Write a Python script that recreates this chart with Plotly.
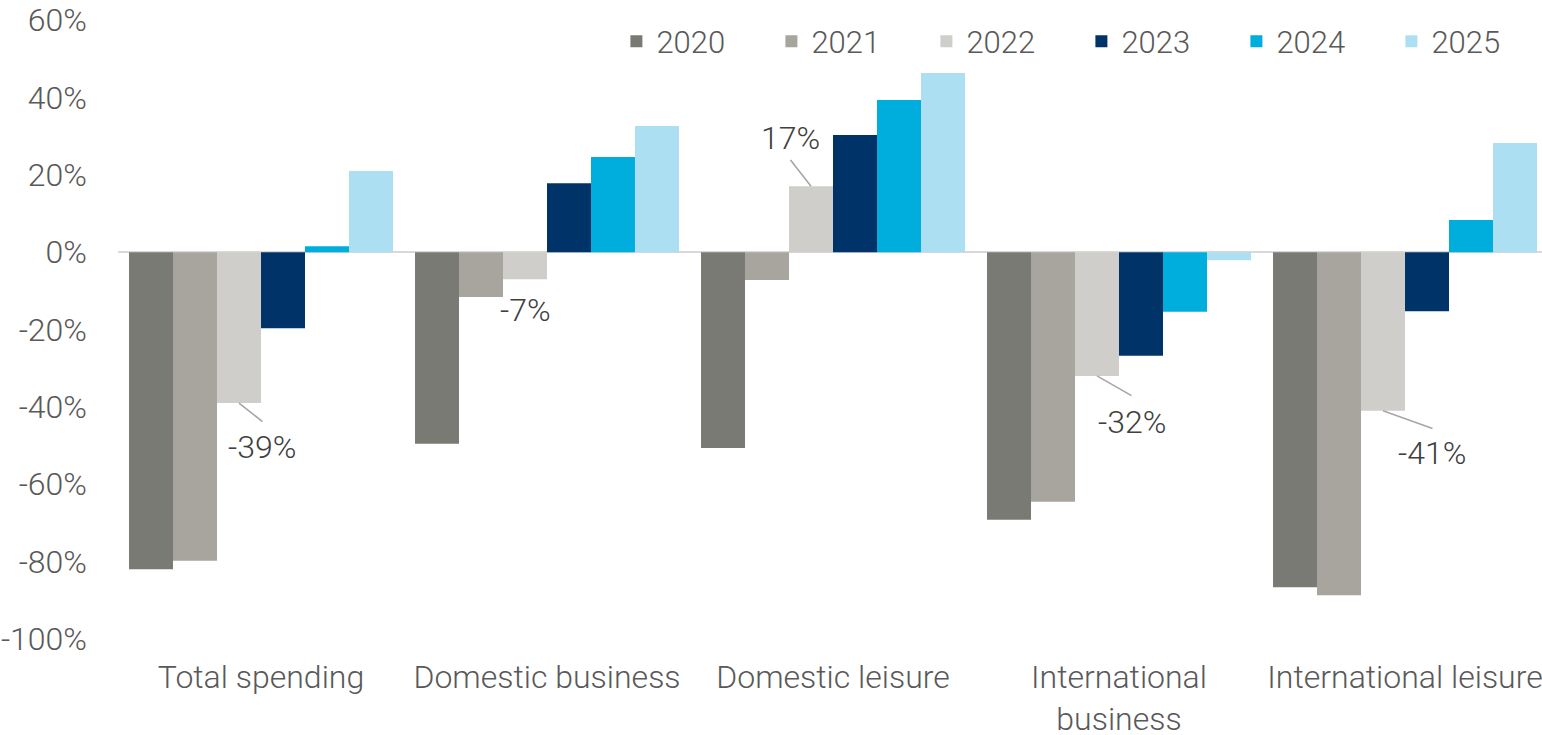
import plotly.graph_objects as go

# Year-over-year change in travel spending (%), by segment
categories = ["Total spending", "Domestic business", "Domestic leisure",
              "International<br>business", "International leisure"]
years = ["2020", "2021", "2022", "2023", "2024", "2025"]

y2020 = [-82.0, -49.5, -50.6, -69.2, -86.6]
y2021 = [-79.8, -11.6, -7.2, -64.5, -88.7]
y2022 = [-39.0, -7.0, 17.0, -32.0, -41.0]
y2023 = [-19.7, 17.8, 30.3, -26.8, -15.3]
y2024 = [1.5, 24.6, 39.3, -15.4, 8.3]
y2025 = [21.0, 32.6, 46.3, -2.1, 28.2]

series = [y2020, y2021, y2022, y2023, y2024, y2025]
colors = ["#7A7A74", "#A8A59F", "#D0CECA", "#003468", "#00AEDD", "#ADDFF2"]

y_ticks = [-100, -80, -60, -40, -20, 0, 20, 40, 60]
y_tick_text = ["-100%", "-80%", "-60%", "-40%", "-20%", "0%", "20%", "40%", "60%"]

FONT = "Roboto"
TICK_COLOR = "#595959"
LABEL_COLOR = "#404040"
FS = 32

fig = go.Figure()
for name, vals, col in zip(years, series, colors):
    fig.add_trace(go.Bar(
        name=name, x=list(range(len(categories))), y=vals,
        marker=dict(color=col, line=dict(width=0)),
    ))

BARGAP = 0.077
n_series = len(years)
bar_w = (1 - BARGAP) / n_series


def bar_center(cat_idx, series_idx):
    return cat_idx - (1 - BARGAP) / 2 + (series_idx + 0.5) * bar_w


# 2022 value callouts: (category, leader dx, leader dy, text dx, text dy) in pixels
callouts = [
    (0, 24, 19, 23, -44),
    (1, None, None, 0, -31),
    (2, -21, -27, -21, 48),
    (3, 35, 20, 35, -46),
    (4, 50, 18, 49, -42),
]

annotations = []
for cat, lx, ly, tx, ty in callouts:
    xv = bar_center(cat, 2)
    yv = y2022[cat]
    if lx is not None:
        annotations.append(dict(
            x=xv, y=yv, xref="x", yref="y", text=" ",
            font=dict(size=1), showarrow=True, arrowhead=0,
            arrowwidth=1.6, arrowcolor="#A6A6A6",
            ax=lx, ay=ly, axref="pixel", ayref="pixel", borderpad=0,
        ))
    annotations.append(dict(
        x=xv, y=yv, xref="x", yref="y", text=f"{yv:.0f}%",
        showarrow=False, xshift=tx, yshift=ty,
        font=dict(family=FONT, size=FS, color=LABEL_COLOR, weight=300),
    ))

fig.update_layout(
    width=1542, height=735,
    margin=dict(l=118, r=0, t=20, b=96, autoexpand=False),
    paper_bgcolor="white", plot_bgcolor="white",
    barmode="group", bargap=BARGAP, bargroupgap=0,
    font=dict(family=FONT, size=FS, color=TICK_COLOR, weight=300),
    legend=dict(
        orientation="h", x=0.350, xanchor="left", y=0.965, yanchor="middle",
        entrywidth=110, entrywidthmode="pixels",
        font=dict(family=FONT, size=31, color=TICK_COLOR, weight=300),
        bgcolor="rgba(0,0,0,0)", itemclick=False, itemdoubleclick=False,
    ),
    xaxis=dict(
        tickmode="array", tickvals=list(range(len(categories))),
        ticktext=categories, range=[-0.5, 4.479],
        showgrid=False, zeroline=False, showline=False, ticks="",
        ticklabelstandoff=16, ticklabeloverflow="allow",
        tickfont=dict(family=FONT, size=FS, color=TICK_COLOR, weight=300),
    ),
    yaxis=dict(
        range=[-100, 60], tickmode="array", tickvals=y_ticks,
        ticktext=y_tick_text, showgrid=False, zeroline=True,
        zerolinecolor="#D9D9D9", zerolinewidth=2, showline=False, ticks="",
        ticklabelstandoff=30, ticklabeloverflow="allow",
        tickfont=dict(family=FONT, size=FS, color=TICK_COLOR, weight=300),
    ),
    annotations=annotations,
    showlegend=True,
)

fig.write_html("out.html")
